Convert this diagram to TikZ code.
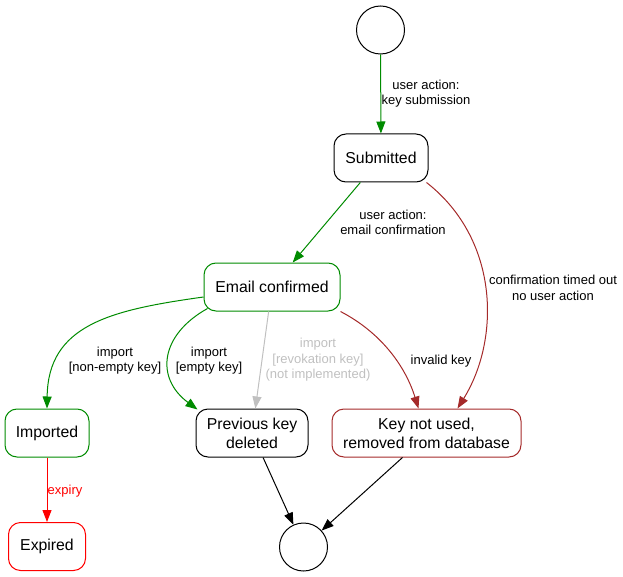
\documentclass[tikz,border=0pt]{standalone}
\usepackage{fontspec}
\setmainfont{Liberation Sans}
\usetikzlibrary{arrows.meta}
\definecolor{gvgreen}{RGB}{0,139,0}
\definecolor{gvbrown}{RGB}{165,42,42}
\definecolor{gvgray}{RGB}{192,192,192}
\begin{document}
\begin{tikzpicture}[x=1pt,y=-1pt, line width=1pt,
 state/.style={draw, rounded corners=12pt, minimum height=48pt, inner sep=0pt, align=center, font=\fontsize{15.8}{19}\selectfont},
 pseudo/.style={draw, circle, minimum size=48pt, inner sep=0pt},
 lbl/.style={align=center, font=\fontsize{13}{15.5}\selectfont, inner sep=0pt},
 arr/.style={-{Triangle[length=12pt,width=9pt]}},
]
\useasboundingbox (0,0) rectangle (623,577);
\node[pseudo] (start) at (380.5,30) {};
\node[state, minimum width=94pt] (sub) at (381,158) {Submitted};
\node[state, draw=gvgreen, minimum width=136pt] (ec) at (272,287) {Email confirmed};
\node[state, draw=gvgreen, minimum width=84pt] (imp) at (47,433) {Imported};
\node[state, minimum width=112pt] (pkd) at (252,433) {Previous key\\deleted};
\node[state, draw=gvbrown, minimum width=189pt] (knu) at (426.5,433) {Key not used,\\removed from database};
\node[state, draw=red, minimum width=77pt] (exp) at (47,546.5) {Expired};
\node[pseudo] (end) at (303.5,547) {};

\draw[arr, gvgreen] (start) -- (sub);
\draw[arr, gvgreen] (sub) -- (ec);
\draw[arr, gvbrown] ([xshift=-2pt]sub.south east) .. controls (500,240) and (500,340) .. ([xshift=31pt]knu.north);
\draw[arr, gvgreen] ([yshift=-10pt]ec.west) .. controls (110,310) and (48,325) .. (imp.north);
\draw[arr, gvgreen] ([xshift=4pt,yshift=3pt]ec.south west) .. controls (160,335) and (155,378) .. ([xshift=2pt,yshift=-1pt]pkd.north west);
\draw[arr, gvgray] (ec) -- (pkd);
\draw[arr, gvbrown] (ec.south east) .. controls (380,332) and (405,365) .. ([xshift=-8pt]knu.north);
\draw[arr, red] (imp) -- (exp);
\draw[arr] (pkd) -- (end);
\draw[arr] ([xshift=-24pt]knu.south) -- (end);

\node[lbl] (l1) at (426,93.5) {user action:\\key submission};
\node[lbl] (l2) at (393,222.5) {user action:\\email confirmation};
\node[lbl] (l3) at (553,288) {confirmation timed out\\no user action};
\node[lbl] (l4) at (115,360.5) {import\\{[non-empty key]}};
\node[lbl] (l5) at (209,360.5) {import\\{[empty key]}};
\node[lbl, text=gvgray] (l6) at (318,360) {import\\{[revokation key]}\\(not implemented)};
\node[lbl] (l7) at (441,361) {invalid key};
\node[lbl, text=red] (l8) at (65,491) {expiry};
\end{tikzpicture}
\end{document}
